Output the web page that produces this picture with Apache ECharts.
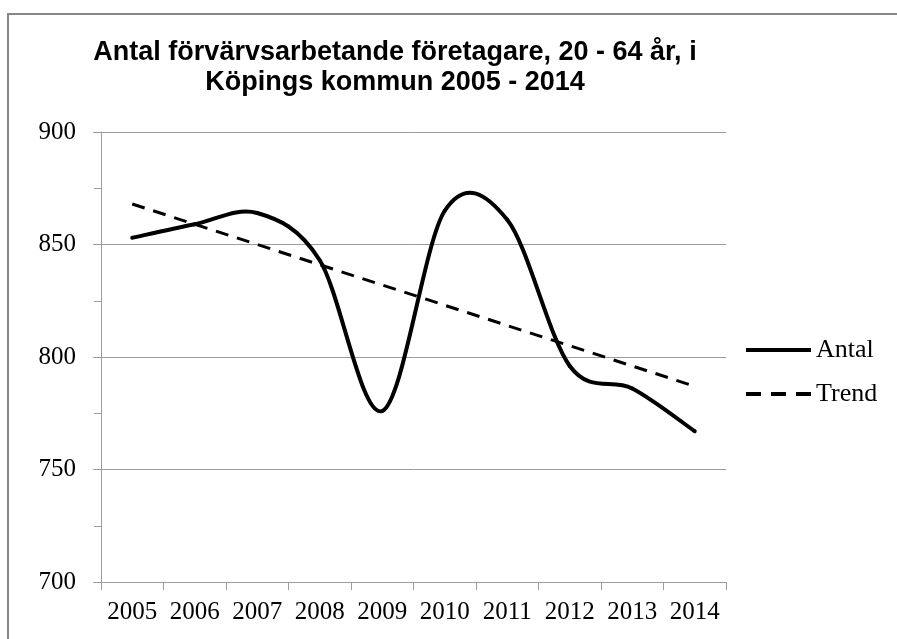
<html>
<head>
    <meta charset="utf-8">
    <title>Köping</title>
    <script src="https://cdn.jsdelivr.net/npm/echarts@6/dist/echarts.min.js"></script>
    <style>
        body { margin: 0; background: #fff; }
    </style>
</head>
<body>

<div id="main" style="width: 897px;height:639px;"></div>

<script type="text/javascript">
    // data
    var years = ['2005', '2006', '2007', '2008', '2009', '2010', '2011', '2012', '2013', '2014'];
    var antal = [853, 859, 864, 843, 776, 865, 861, 796, 786, 767];
    var trend = [868, 859, 850, 841, 832, 823, 814, 805, 796, 787];
    var yMin = 700, yMax = 900, yStep = 50;

    var myChart = echarts.init(document.getElementById('main'));
    var grey = '#9c9c9c';
    var serif = '"Liberation Serif", "Times New Roman", serif';

    // excel style smoothed line: one bezier piece from each point to the next
    function renderAntal(params, api) {
        var i = params.dataIndexInside;
        var n = params.dataInsideLength;
        if (i >= n - 1) return;
        var pt = function (k) {
            k = Math.max(0, Math.min(n - 1, k));
            return api.coord([api.value(0, k), api.value(1, k)]);
        };
        var p0 = pt(i - 1), p1 = pt(i), p2 = pt(i + 1), p3 = pt(i + 2);
        var t = 1 / 6;
        return {
            type: 'bezierCurve',
            shape: {
                x1: p1[0], y1: p1[1], x2: p2[0], y2: p2[1],
                cpx1: p1[0] + (p2[0] - p0[0]) * t, cpy1: p1[1] + (p2[1] - p0[1]) * t,
                cpx2: p2[0] - (p3[0] - p1[0]) * t, cpy2: p2[1] - (p3[1] - p1[1]) * t
            },
            style: {stroke: '#000', lineWidth: 4, fill: null, lineCap: 'round'}
        };
    }

    var option = {
        animation: false,
        backgroundColor: '#fff',
        title: {
            text: 'Antal förvärvsarbetande företagare, 20 - 64 år, i\nKöpings kommun 2005 - 2014',
            left: 390,
            top: 33,
            textAlign: 'center',
            textStyle: {
                fontFamily: '"Liberation Sans", Arial, sans-serif',
                fontWeight: 'bold',
                fontSize: 27,
                lineHeight: 30,
                color: '#000'
            }
        },
        graphic: [{
            type: 'rect',
            shape: {x: 8, y: 14, width: 1000, height: 1000},
            style: {fill: 'none', stroke: '#878787', lineWidth: 2},
            silent: true
        }],
        legend: {
            orient: 'vertical',
            left: 746,
            top: 335,
            padding: 0,
            itemWidth: 65,
            itemHeight: 4,
            itemGap: 14,
            textStyle: {fontFamily: serif, fontSize: 26, lineHeight: 30, color: '#000'},
            data: [
                {name: 'Antal', icon: 'rect', itemStyle: {color: '#000'}},
                {name: 'Trend', icon: 'path://M0,0H15V4H0Z M25,0H40V4H25Z M50,0H65V4H50Z', itemStyle: {color: '#000'}}
            ]
        },
        grid: {left: 101, right: 171, top: 132, bottom: 57},
        xAxis: {
            type: 'category',
            data: years,
            boundaryGap: true,
            axisLine: {lineStyle: {color: grey, width: 1}},
            axisTick: {show: true, length: 8, lineStyle: {color: grey}},
            axisLabel: {interval: 0, margin: 18, fontFamily: serif, fontSize: 25, color: '#000'}
        },
        yAxis: {
            type: 'value',
            min: yMin,
            max: yMax,
            interval: yStep,
            axisLine: {show: true, lineStyle: {color: grey, width: 1}},
            axisTick: {show: true, length: 8, lineStyle: {color: grey}},
            minorTick: {show: true, splitNumber: 2, length: 7, lineStyle: {color: grey}},
            splitLine: {lineStyle: {color: grey, width: 1}},
            axisLabel: {margin: 25, fontFamily: serif, fontSize: 25, color: '#000'}
        },
        series: [{
            name: 'Antal',
            type: 'custom',
            renderItem: renderAntal,
            data: antal.map(function (v, i) { return [i, v]; }),
            itemStyle: {color: '#000'}
        }, {
            name: 'Trend',
            type: 'line',
            data: trend,
            symbol: 'none',
            lineStyle: {color: '#000', width: 3, type: [13, 9]},
            itemStyle: {color: '#000'}
        }]
    };

    myChart.setOption(option);
</script>
</body>
</html>
